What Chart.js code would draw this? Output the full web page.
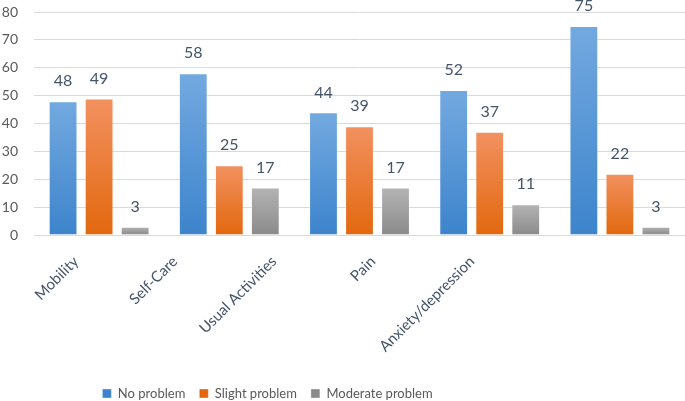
<!DOCTYPE html>
<html>
<head>
<meta charset="utf-8">
<script src="https://cdn.jsdelivr.net/npm/chart.js@4.4.0/dist/chart.umd.min.js"></script>
<style>
  html, body { margin: 0; padding: 0; background: #fff; }
  #wrap { width: 685px; height: 401px; }
</style>
</head>
<body>
<div id="wrap"><canvas id="eqChart" width="685" height="401"></canvas></div>
<script>
// categories and series
const categories = ['Mobility', 'Self-Care', 'Usual Activities', 'Pain', 'Anxiety/depression'];
const noProblem = [48, 58, 44, 52, 75];
const slightProblem = [49, 25, 39, 37, 22];
const moderateProblem = [3, 17, 17, 11, 3];
const yTicks = [0, 10, 20, 30, 40, 50, 60, 70, 80];

const FONT = 'Lato, "Open Sans", sans-serif';
const TEXT = '#44546a';

// gradient per bar, top lighter, bottom darker
function barFill(top, bottom) {
  return function (ctx) {
    const chart = ctx.chart;
    if (!chart.chartArea || ctx.raw == null) return bottom;
    const y = chart.scales.y;
    const y0 = y.getPixelForValue(ctx.raw);
    const y1 = y.getPixelForValue(0);
    if (!isFinite(y0) || y0 === y1) return bottom;
    const g = chart.ctx.createLinearGradient(0, y0, 0, y1);
    g.addColorStop(0, top);
    g.addColorStop(1, bottom);
    return g;
  };
}

// value labels above bars
const valueLabels = {
  id: 'valueLabels',
  afterDatasetsDraw(chart) {
    const ctx = chart.ctx;
    ctx.save();
    ctx.font = '16px ' + FONT;
    ctx.fillStyle = TEXT;
    ctx.textAlign = 'center';
    ctx.textBaseline = 'bottom';
    chart.data.datasets.forEach((ds, di) => {
      chart.getDatasetMeta(di).data.forEach((bar, i) => {
        ctx.fillText(ds.data[i], bar.x, bar.y - 12);
      });
    });
    ctx.restore();
  }
};

// rotated category labels (excel squeezes them to the left)
const catLabels = {
  id: 'catLabels',
  afterDraw(chart) {
    const ctx = chart.ctx;
    const area = chart.chartArea;
    ctx.save();
    ctx.font = '15px ' + FONT;
    ctx.fillStyle = TEXT;
    ctx.textAlign = 'right';
    ctx.textBaseline = 'middle';
    categories.forEach((c, i) => {
      const x = area.left + 42 + i * 99;
      ctx.save();
      ctx.translate(x, area.bottom + 24);
      ctx.rotate(-Math.PI / 4);
      ctx.fillText(c, 0, 0);
      ctx.restore();
    });
    ctx.restore();
  }
};

// move the legend into place
const legendShift = {
  id: 'legendShift',
  afterLayout(chart) {
    const l = chart.legend;
    l.left -= 75; l.right -= 75;
    l.top += 9; l.bottom += 9;
  }
};

new Chart(document.getElementById('eqChart'), {
  type: 'bar',
  data: {
    labels: categories,
    datasets: [
      { label: 'No problem', data: noProblem, backgroundColor: barFill('#73a9e0', '#3d84cc'), borderColor: 'rgba(255,255,255,0.35)', borderWidth: 1 },
      { label: 'Slight problem', data: slightProblem, backgroundColor: barFill('#f29160', '#e2680e'), borderColor: 'rgba(255,255,255,0.35)', borderWidth: 1 },
      { label: 'Moderate problem', data: moderateProblem, backgroundColor: barFill('#b4b4b4', '#8a8a8a'), borderColor: 'rgba(255,255,255,0.35)', borderWidth: 1 }
    ]
  },
  options: {
    responsive: false,
    animation: false,
    layout: { padding: { top: 12, left: 0, right: 0, bottom: 0 } },
    categoryPercentage: 0.83,
    barPercentage: 0.8,
    scales: {
      x: {
        grid: { display: false },
        border: { display: false },
        ticks: { display: false },
        afterFit(scale) { scale.height = 129; }
      },
      y: {
        min: 0,
        max: 80,
        afterBuildTicks(scale) { scale.ticks = yTicks.map(v => ({ value: v })); },
        afterFit(scale) { scale.paddingTop = 0; scale.paddingBottom = 0; scale.width = 34; },
        grid: { color: '#d9d9d9', drawTicks: false },
        border: { display: false },
        ticks: { padding: 16, color: '#595959', font: { family: FONT, size: 14 } }
      }
    },
    plugins: {
      legend: {
        position: 'bottom',
        labels: {
          boxWidth: 9,
          boxHeight: 9,
          padding: 14,
          color: '#595959',
          font: { family: FONT, size: 13 }
        }
      },
      tooltip: { enabled: false }
    }
  },
  plugins: [valueLabels, catLabels, legendShift]
});
</script>
</body>
</html>
